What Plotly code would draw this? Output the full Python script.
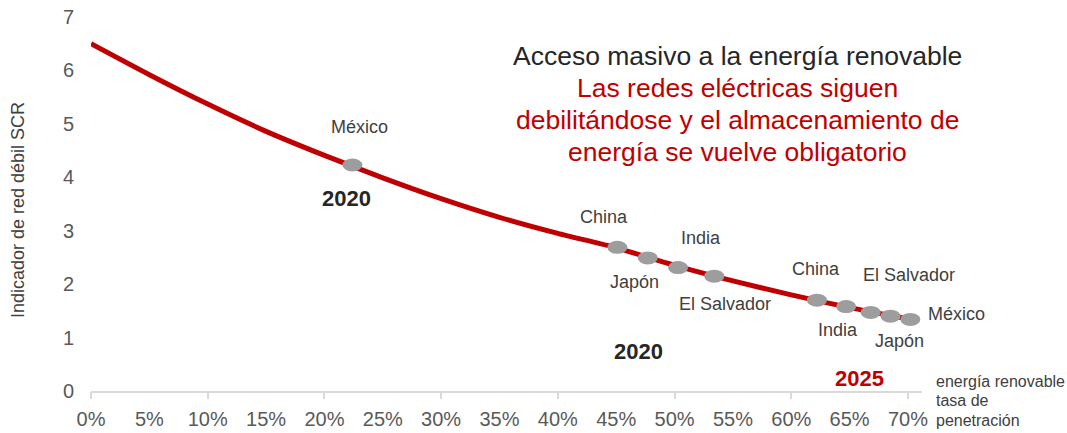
import plotly.graph_objects as go

# ---- data ----
penetration = [0.00, 0.05, 0.10, 0.15, 0.20, 0.25, 0.30, 0.35, 0.40, 0.45, 0.50, 0.55, 0.60, 0.65, 0.70]
scr_index = [6.50, 5.92, 5.37, 4.86, 4.41, 3.99, 3.60, 3.25, 2.95, 2.68, 2.35, 2.06, 1.80, 1.56, 1.35]

country_x = [0.224, 0.451, 0.477, 0.503, 0.534, 0.622, 0.647, 0.668, 0.685, 0.702]
country_y = [4.23, 2.69, 2.49, 2.31, 2.15, 1.70, 1.58, 1.47, 1.40, 1.34]

country_labels = ["México", "China", "Japón", "India", "El Salvador",
                  "China", "India", "El Salvador", "Japón", "México"]

x_tickvals = [0.00, 0.05, 0.10, 0.15, 0.20, 0.25, 0.30, 0.35, 0.40, 0.45, 0.50, 0.55, 0.60, 0.65, 0.70]
x_ticktext = ["0%", "5%", "10%", "15%", "20%", "25%", "30%", "35%", "40%", "45%", "50%", "55%", "60%", "65%", "70%"]
y_tickvals = [0, 1, 2, 3, 4, 5, 6, 7]

title_black = "Acceso masivo a la energía renovable"
title_red = ["Las redes eléctricas siguen",
             "debilitándose y el almacenamiento de",
             "energía se vuelve obligatorio"]
year_labels = ["2020", "2020", "2025"]
x_title_lines = ["energía renovable", "tasa de", "penetración"]
y_title = "Indicador de red débil SCR"

# ---- styles / layout geometry ----
FONT = "Arial, Liberation Sans, sans-serif"
RED = "#C00000"
LABEL_COLOR = "#404040"
TICK_COLOR = "#595959"
AXIS_COLOR = "#d9d9d9"
MARKER_COLOR = "#9d9d9d"

W, H = 1067, 433
XR = [0, 0.712]
YR = [0, 7]
PX_PER_UNIT_X = 1167.0
ML, MT, MB = 91, 17, 42
MR = W - ML - round(XR[1] * PX_PER_UNIT_X)
PW, PH = W - ML - MR, H - MT - MB


def px_to_paper(px, py):
    return (px - ML) / PW, (H - MB - py) / PH


def add_text(px, py, text, size, color, xanchor="center", angle=0):
    ax, ay = px_to_paper(px, py)
    fig.add_annotation(x=ax, y=ay, xref="paper", yref="paper", text=text,
                       showarrow=False, xanchor=xanchor, yanchor="middle",
                       textangle=angle,
                       font=dict(family=FONT, size=size, color=color))


fig = go.Figure()
fig.add_trace(go.Scatter(
    x=penetration, y=scr_index, mode="lines",
    line=dict(color=RED, width=5, shape="spline", smoothing=0.6),
    hoverinfo="skip", showlegend=False,
))
# invisible trace for second x axis (tick marks every 10%)
fig.add_trace(go.Scatter(x=[penetration[0], penetration[-1]], y=[None, None],
                         xaxis="x2", showlegend=False, hoverinfo="skip"))

# ellipse markers (pixel-sized, anchored at data coordinates)
for cx, cy in zip(country_x, country_y):
    fig.add_shape(type="circle", xref="x", yref="y",
                  xsizemode="pixel", ysizemode="pixel",
                  xanchor=cx, yanchor=cy,
                  x0=-10, x1=10, y0=-6.5, y1=6.5,
                  fillcolor=MARKER_COLOR, line=dict(width=0), layer="above")

# country labels (pixel positions of label centres)
label_px = [(359, 127), (604, 217), (634, 282), (701, 238), (725, 304),
            (816, 269), (838, 330), (909, 275), (899, 341), (956, 314)]
for txt, (lx, ly) in zip(country_labels, label_px):
    add_text(lx, ly, txt, 18, LABEL_COLOR)

year_px = [(346, 198, "#262626"), (638, 351, "#262626"), (859, 378, RED)]
for txt, (lx, ly, col) in zip(year_labels, year_px):
    add_text(lx, ly, "<b>" + txt + "</b>", 22, col)

# title block
add_text(737, 56, title_black, 26.5, "#262626")
for i, line in enumerate(title_red):
    add_text(737, 88 + 32 * i, line, 26.5, RED)

# x axis title (right of axis)
for i, line in enumerate(x_title_lines):
    add_text(934, 381 + 19.5 * i, line, 16, LABEL_COLOR, xanchor="left")

# y axis title
add_text(18, 210, y_title, 18, LABEL_COLOR, angle=-90)

fig.update_layout(
    width=W, height=H,
    margin=dict(l=ML, r=MR, t=MT, b=MB, autoexpand=False),
    paper_bgcolor="white", plot_bgcolor="white",
    showlegend=False,
    xaxis=dict(range=XR, tickvals=x_tickvals, ticktext=x_ticktext, ticks="",
               showgrid=False, zeroline=False, showline=True, linecolor=AXIS_COLOR,
               linewidth=2, ticklabelstandoff=9, automargin=False,
               tickfont=dict(family=FONT, size=20, color=TICK_COLOR)),
    xaxis2=dict(range=XR, overlaying="x", side="bottom", dtick=0.1, tick0=0,
                ticks="outside", ticklen=7, tickwidth=2, tickcolor=AXIS_COLOR,
                showticklabels=False, showgrid=False, zeroline=False, showline=False,
                automargin=False),
    yaxis=dict(range=YR, tickvals=y_tickvals, ticks="", showgrid=False,
               zeroline=False, showline=False, ticklabelstandoff=16, automargin=False,
               tickfont=dict(family=FONT, size=20, color=TICK_COLOR)),
)

fig.write_html("out.html")
